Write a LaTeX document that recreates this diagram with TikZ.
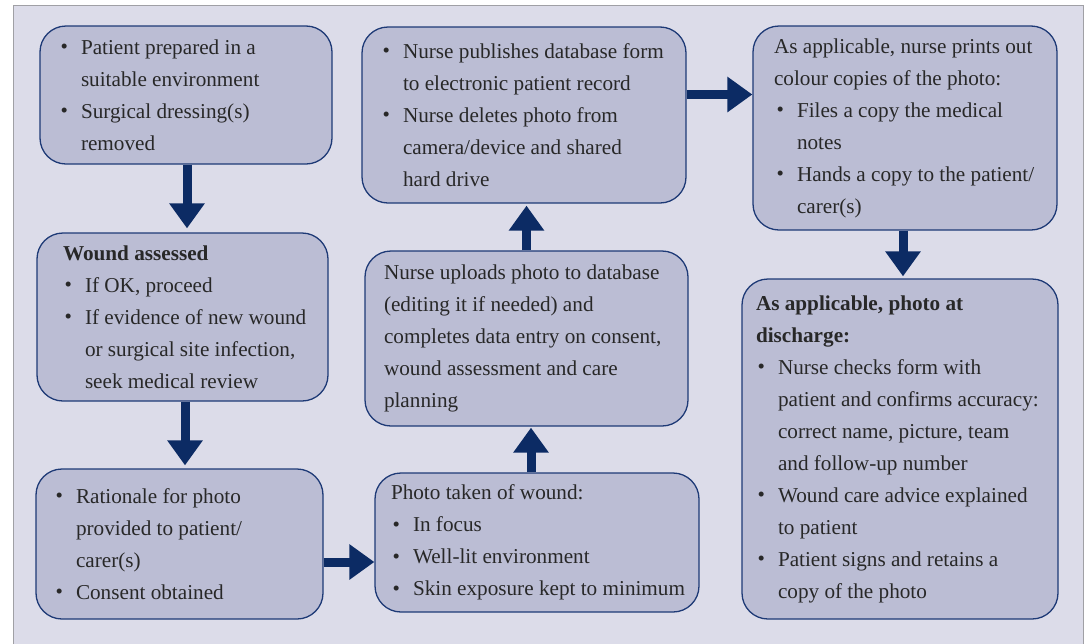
\documentclass[tikz,border=0pt]{standalone}
\usepackage{fontspec}
\setmainfont{Liberation Serif}
\usetikzlibrary{arrows.meta,calc}
\definecolor{panel}{RGB}{220,220,233}
\definecolor{boxfill}{RGB}{187,189,212}
\definecolor{boxline}{RGB}{30,58,118}
\definecolor{arrowcol}{RGB}{12,43,100}
\definecolor{txt}{RGB}{40,40,40}
\definecolor{framecol}{RGB}{160,160,165}
\newlength\bshift
\newcommand{\bi}[1]{\hspace*{\bshift}\makebox[21pt][l]{\hspace{0.5pt}\raisebox{0.5pt}{\fontsize{21}{21}\selectfont\textbullet}}#1}
\newcommand{\bc}[1]{\hspace*{\dimexpr\bshift+21pt\relax}#1}
\newcommand{\hd}[1]{\textbf{#1}}
\newcommand{\boxsetup}[2]{\leftskip=#1\relax\bshift=#2\relax\spaceskip=0pt\xspaceskip=0pt\relax}
\begin{document}
\begin{tikzpicture}[x=1pt,y=-1pt,
  flowbox/.style={rectangle, rounded corners=26pt, draw=boxline, fill=boxfill,
    line width=1.3pt, inner xsep=0pt, inner ysep=0pt, align=left, text=txt,
    font=\fontsize{21.2}{32}\selectfont},
  bigarrow/.style={draw=arrowcol, line width=9pt,
    -{Triangle[length=25pt,width=34pt]}}]
\useasboundingbox (0,0) rectangle (1089,643);
\fill[white] (0,0) rectangle (1089,643);
\draw[fill=panel, draw=framecol, line width=1pt] (13,5) rectangle (1083,660);

\node[flowbox, text width=292pt, minimum height=138pt] (b1) at (186,95)
 {\boxsetup{20pt}{0pt}%
  \bi{Patient prepared in a}\\
  \bc{suitable environment}\\
  \bi{Surgical dressing(s)}\\
  \bc{removed}\par};

\node[flowbox, text width=291pt, minimum height=168pt] (b2) at (182.5,317)
 {\boxsetup{26pt}{1pt}%
  \hd{Wound assessed}\\
  \bi{If OK, proceed}\\
  \bi{If evidence of new wound}\\
  \bc{or surgical site infection,}\\
  \bc{seek medical review}\par};

\node[flowbox, text width=287pt, minimum height=150pt] (b3) at (179.5,544)
 {\boxsetup{19pt}{0pt}%
  \bi{Rationale for photo}\\
  \bc{provided to patient/}\\
  \bc{carer(s)}\\
  \bi{Consent obtained}\par};

\node[flowbox, text width=324pt, minimum height=139pt] (b4) at (537,542.5)
 {\boxsetup{16pt}{1pt}%
  Photo taken of wound:\\
  \bi{In focus}\\
  \bi{Well-lit environment}\\
  \bi{Skin exposure kept to minimum}\par};

\node[flowbox, text width=323pt, minimum height=175pt] (b5) at (526.5,338.5)
 {\boxsetup{19pt}{0pt}%
  Nurse uploads photo to database\\
  (editing it if needed) and\\
  completes data entry on consent,\\
  wound assessment and care\\
  planning\par};

\node[flowbox, text width=324pt, minimum height=176pt] (b6) at (524,115)
 {\boxsetup{20pt}{0pt}%
  \bi{Nurse publishes database form}\\
  \bc{to electronic patient record}\\
  \bi{Nurse deletes photo from}\\
  \bc{camera/device and shared}\\
  \bc{hard drive}\par};

\node[flowbox, text width=304pt, minimum height=204pt] (b7) at (905,128)
 {\boxsetup{21pt}{2pt}%
  As applicable, nurse prints out\\
  colour copies of the photo:\\
  \bi{Files a copy the medical}\\
  \bc{notes}\\
  \bi{Hands a copy to the patient/}\\
  \bc{carer(s)}\par};

\node[flowbox, text width=316pt, minimum height=340pt] (b8) at (900,449)
 {\boxsetup{14pt}{1pt}%
  \hd{As applicable, photo at}\\
  \hd{discharge:}\\
  \bi{Nurse checks form with}\\
  \bc{patient and confirms accuracy:}\\
  \bc{correct name, picture, team}\\
  \bc{and follow-up number}\\
  \bi{Wound care advice explained}\\
  \bc{to patient}\\
  \bi{Patient signs and retains a}\\
  \bc{copy of the photo}\par};

\draw[bigarrow, shorten >=4pt] ($(b1.south)+(1,0)$) coordinate (a1) -- (a1 |- b2.north);
\draw[bigarrow, shorten >=3pt] ($(b2.south)+(2.5,0)$) coordinate (a2) -- (a2 |- b3.north);
\draw[bigarrow] ($(b3.east)+(0,18)$) coordinate (a3) -- (a3 -| b4.west);
\draw[bigarrow, shorten >=1pt] ($(b4.north)+(-6,0)$) coordinate (a4) -- (a4 |- b5.south);
\draw[bigarrow, shorten >=2pt] (b5.north) -- (b5.north |- b6.south);
\draw[bigarrow] ($(b6.east)+(0,-20.5)$) coordinate (a6) -- (a6 -| b7.west);
\draw[bigarrow, shorten >=2pt] ($(b7.south)+(-2,0)$) coordinate (a7) -- (a7 |- b8.north);
\end{tikzpicture}
\end{document}
